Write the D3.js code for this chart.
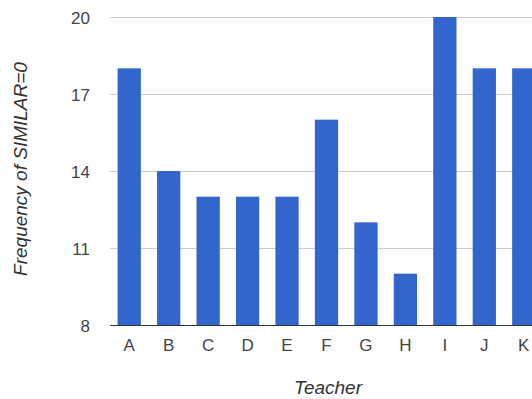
<!DOCTYPE html>
<html>
<head>
<meta charset="utf-8">
<script src="https://cdn.jsdelivr.net/npm/d3@7"></script>
<style>
  html, body { margin: 0; padding: 0; background: #fff; }
  svg { display: block; font-family: Arial, "Liberation Sans", sans-serif; }
</style>
</head>
<body>
<svg id="chart" width="532" height="399"></svg>
<script>
// Teacher categories and how often SIMILAR=0 occurs for each
const teachers = ["A", "B", "C", "D", "E", "F", "G", "H", "I", "J", "K"];
const frequency = [18, 14, 13, 13, 13, 16, 12, 10, 20, 18, 18];
const yTicks = [8, 11, 14, 17, 20];

const svg = d3.select("#chart");

const x = d3.scaleBand()
  .domain(teachers)
  .range([109.5, 543.5])
  .paddingInner(0.41)
  .paddingOuter(0.205);

const y = d3.scaleLinear()
  .domain([8, 20])
  .range([325, 17]);

// horizontal gridlines
svg.append("g")
  .selectAll("line")
  .data(yTicks.slice(1))
  .join("line")
  .attr("x1", 110)
  .attr("x2", 532)
  .attr("y1", d => Math.round(y(d)) + 0.5)
  .attr("y2", d => Math.round(y(d)) + 0.5)
  .attr("stroke", "#cccccc")
  .attr("stroke-width", 1);

// bars
svg.append("g")
  .selectAll("rect")
  .data(teachers.map((t, i) => ({ t, v: frequency[i] })))
  .join("rect")
  .attr("x", d => x(d.t))
  .attr("y", d => y(d.v))
  .attr("width", x.bandwidth())
  .attr("height", d => y(8) - y(d.v))
  .attr("fill", "#3366cc");

// baseline
svg.append("line")
  .attr("x1", 110)
  .attr("x2", 532)
  .attr("y1", y(8) + 0.5)
  .attr("y2", y(8) + 0.5)
  .attr("stroke", "#333333")
  .attr("stroke-width", 1);

// y axis labels
const yAxis = d3.axisLeft(y).tickValues(yTicks).tickSize(0).tickPadding(0);
const gy = svg.append("g").attr("transform", "translate(90,0)").call(yAxis);
gy.select(".domain").remove();
gy.selectAll("text")
  .attr("fill", "#444444")
  .style("font-size", "17px")
  .attr("dy", "0.36em");

// x axis labels
const xAxis = d3.axisBottom(x).tickSize(0).tickPadding(0);
const gx = svg.append("g").attr("transform", "translate(0,339)").call(xAxis);
gx.select(".domain").remove();
gx.selectAll("text")
  .attr("fill", "#444444")
  .style("font-size", "17px")
  .attr("dy", "0.71em");

// axis titles
svg.append("text")
  .attr("x", 328)
  .attr("y", 394)
  .attr("text-anchor", "middle")
  .attr("font-style", "italic")
  .attr("font-size", "19px")
  .attr("fill", "#333333")
  .text("Teacher");

svg.append("text")
  .attr("transform", "translate(27,169) rotate(-90)")
  .attr("text-anchor", "middle")
  .attr("font-style", "italic")
  .attr("font-size", "19px")
  .attr("fill", "#333333")
  .text("Frequency of SIMILAR=0");
</script>
</body>
</html>
